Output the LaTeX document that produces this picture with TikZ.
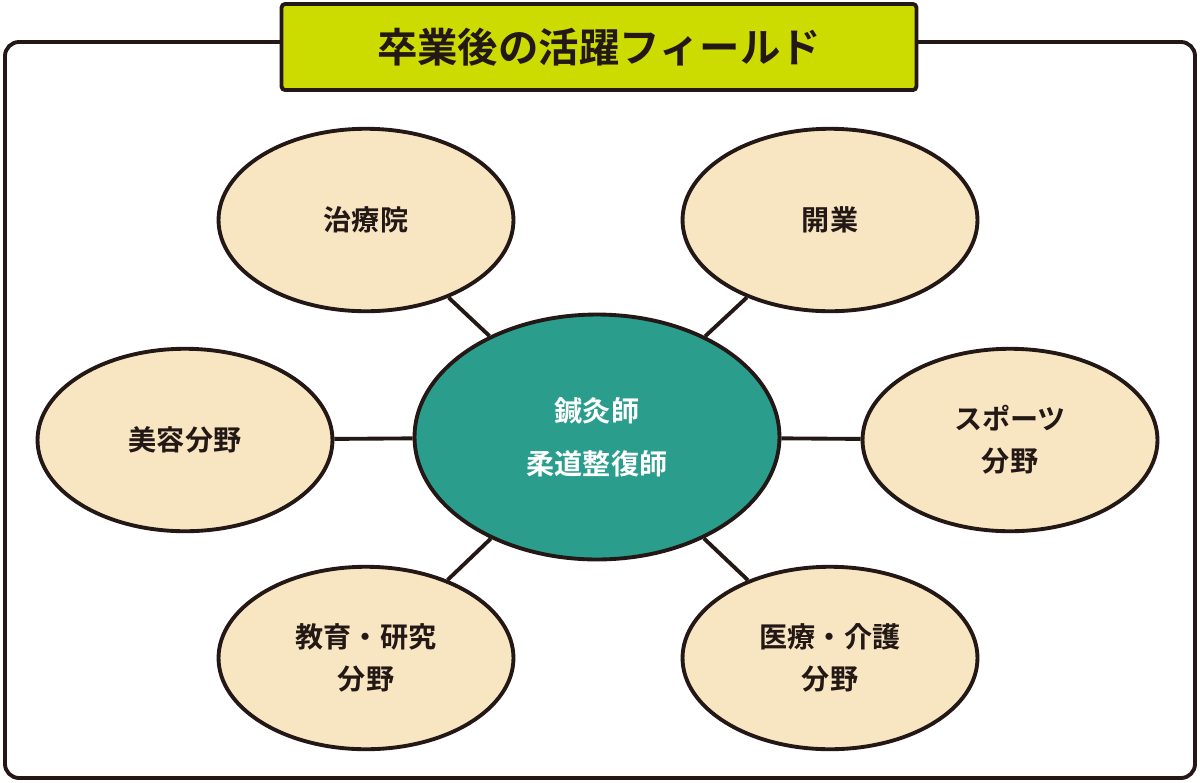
\documentclass[tikz,border=0pt]{standalone}
\usepackage{fontspec}
\setmainfont{Noto Sans CJK JP}[BoldFont={Noto Sans CJK JP Bold}]
\usetikzlibrary{shapes.geometric}
\definecolor{ink}{HTML}{231815}
\definecolor{cream}{HTML}{F8E6C3}
\definecolor{teal}{HTML}{2A9D8C}
\definecolor{lime}{HTML}{CDDC00}
\tikzset{
  field/.style={ellipse, draw=ink, line width=2.2pt, fill=cream, minimum width=5.9cm, minimum height=3.65cm, align=center, font=\bfseries\fontsize{16}{24}\selectfont, text=ink},
  link/.style={draw=ink, line width=2.2pt}
}
\begin{document}
\begin{tikzpicture}[x=0.02cm, y=-0.02cm]
  \useasboundingbox (0,0) rectangle (1200,782);
  % Frame and title
  \draw[ink, line width=2.2pt, rounded corners=8pt] (5,42) rectangle (1195,778);
  \node[draw=ink, line width=2.2pt, fill=lime, rounded corners=2pt, minimum width=12.7cm, minimum height=1.72cm, font=\bfseries\fontsize{23}{28}\selectfont, text=ink] (title) at (599,47) {卒業後の活躍フィールド};

  % Fields
  \node[field] (clinic) at (366,220) {治療院};
  \node[field] (open) at (830,220) {開業};
  \node[field] (beauty) at (185,440) {美容分野};
  \node[field] (sports) at (1010,440) {スポーツ\\分野};
  \node[field] (edu) at (366,658) {教育・研究\\分野};
  \node[field] (care) at (830,658) {医療・介護\\分野};

  % Center
  \node[ellipse, draw=ink, line width=2.2pt, fill=teal, minimum width=7.3cm, minimum height=4.9cm, align=center, font=\bfseries\fontsize{16}{30}\selectfont, text=white] (core) at (597,437) {鍼灸師\\柔道整復師};

  % Links
  \foreach \f in {clinic,open,beauty,sports,edu,care}
    \draw[link] (core) -- (\f);
\end{tikzpicture}
\end{document}
